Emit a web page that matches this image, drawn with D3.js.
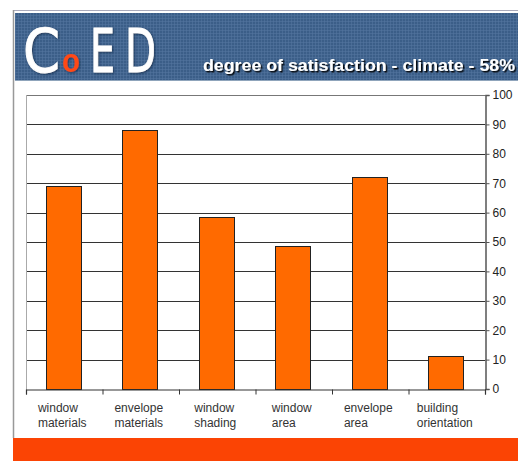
<!DOCTYPE html>
<html><head><meta charset="utf-8">
<script src="https://cdn.jsdelivr.net/npm/d3@7"></script>
<style>html,body{margin:0;padding:0;background:#fff;}svg{display:block;}</style>
</head><body>
<svg id="c" width="518" height="461"></svg>
<script>
const categories = [["window","materials"],["envelope","materials"],["window","shading"],["window","area"],["envelope","area"],["building","orientation"]];
const values = [69, 88, 58.5, 48.5, 72, 11.3];
const yTicks = [0,10,20,30,40,50,60,70,80,90,100];
const title = "degree of satisfaction - climate - 58%";

const svg = d3.select("#c");
const defs = svg.append("defs");
const pat = defs.append("pattern").attr("id","grid").attr("width",3).attr("height",3).attr("patternUnits","userSpaceOnUse");
pat.append("rect").attr("width",3).attr("height",3).attr("fill","#3b5e88");
pat.append("rect").attr("width",3).attr("height",1).attr("fill","#5476a0").attr("opacity",0.55);
pat.append("rect").attr("width",1).attr("height",3).attr("fill","#5476a0").attr("opacity",0.55);
const sh = defs.append("filter").attr("id","sh").attr("x","-5%").attr("y","-20%").attr("width","110%").attr("height","150%");
sh.append("feDropShadow").attr("dx",1.5).attr("dy",1.5).attr("stdDeviation",0.6).attr("flood-color","#000").attr("flood-opacity",0.9);
const sh2 = defs.append("filter").attr("id","sh2").attr("x","-20%").attr("y","-20%").attr("width","140%").attr("height","140%");
sh2.append("feDropShadow").attr("dx",1).attr("dy",1).attr("stdDeviation",1).attr("flood-color","#102040").attr("flood-opacity",0.7);

// frame
svg.append("line").attr("x1",13).attr("x2",518).attr("y1",10.5).attr("y2",10.5).attr("stroke","#aab").attr("stroke-width",1);
svg.append("line").attr("x1",13.5).attr("x2",13.5).attr("y1",10).attr("y2",438).attr("stroke","#999").attr("stroke-width",1.5);
// header
svg.append("rect").attr("x",15).attr("y",13).attr("width",503).attr("height",67).attr("fill","url(#grid)");
svg.append("line").attr("x1",15).attr("x2",518).attr("y1",80.5).attr("y2",80.5).attr("stroke","#8fa4bb");
// CoED logo
const logo = svg.append("g").attr("font-family","'Liberation Sans Narrow','DejaVu Sans Condensed',sans-serif").attr("fill","#fff").attr("stroke","#fff").attr("stroke-width",0.9).attr("filter","url(#sh2)");
logo.append("text").attr("x",23).attr("y",72).attr("font-size",61).attr("textLength",37).attr("lengthAdjust","spacingAndGlyphs").text("C");
logo.append("text").attr("x",62).attr("y",72).attr("font-size",33).attr("font-weight","bold").attr("fill","#ff4a14").attr("stroke","none").attr("font-family","Arial,'Liberation Sans',sans-serif").attr("textLength",18).attr("lengthAdjust","spacingAndGlyphs").text("o");
logo.append("text").attr("x",90).attr("y",72).attr("font-size",61).attr("textLength",25).attr("lengthAdjust","spacingAndGlyphs").text("E");
logo.append("text").attr("x",125).attr("y",72).attr("font-size",61).attr("textLength",31).attr("lengthAdjust","spacingAndGlyphs").text("D");
svg.append("text").attr("x",203).attr("y",71).attr("font-family","Arial,'Liberation Sans',sans-serif")
  .attr("font-weight","bold").attr("font-size",16).attr("fill","#fff").attr("filter","url(#sh)")
  .attr("textLength",312).attr("lengthAdjust","spacingAndGlyphs").text(title);

// bottom bar
svg.append("rect").attr("x",13).attr("y",438).attr("width",505).attr("height",23).attr("fill","#fb4404");

// chart
const L=26, R=485, T=95, B=389;
const x = d3.scaleBand().domain(d3.range(categories.length)).range([L,R]).padding(0);
const y = d3.scaleLinear().domain([0,100]).range([B,T]);
const g = svg.append("g");
// gridlines
g.selectAll("line.grid").data(yTicks.filter(t=>t>0 && t<100)).join("line")
  .attr("x1",L).attr("x2",R).attr("y1",d=>Math.round(y(d))+0.5).attr("y2",d=>Math.round(y(d))+0.5)
  .attr("stroke","#333").attr("stroke-width",1);
g.append("line").attr("x1",L).attr("x2",R).attr("y1",T+0.5).attr("y2",T+0.5).attr("stroke","#777");
g.append("line").attr("x1",L+0.5).attr("x2",L+0.5).attr("y1",T).attr("y2",B).attr("stroke","#aaa");

// bars
const frac = 0.457;
g.selectAll("rect.bar").data(values).join("rect")
  .attr("x",(d,i)=>Math.round(x(i)+x.bandwidth()*(1-frac)/2 - 1)+0.5)
  .attr("width",Math.round(x.bandwidth()*frac))
  .attr("y",d=>Math.round(y(d))+0.5)
  .attr("height",d=>B-Math.round(y(d)))
  .attr("fill","#ff6a00").attr("stroke","#222").attr("stroke-width",1);

// right axis
const ya = d3.axisRight(y).tickValues(yTicks).tickSize(4).tickPadding(3);
const yg = svg.append("g").attr("transform",`translate(${R+0.5},0)`).call(ya);
yg.select(".domain").attr("stroke","#555").attr("stroke-width",1.5);
yg.selectAll(".tick line").attr("stroke","#555");
yg.selectAll(".tick text").attr("font-family","Arial,'Liberation Sans',sans-serif").attr("font-size",12).attr("fill","#222");

// bottom axis
const xb = d3.scaleLinear().domain([0,categories.length]).range([L,R]);
const xa = d3.axisBottom(xb).tickValues(d3.range(categories.length+1)).tickSize(5).tickFormat("");
const xg = svg.append("g").attr("transform",`translate(0,${B+0.5})`).call(xa);
xg.select(".domain").attr("stroke","#333").attr("stroke-width",1.2);
xg.selectAll(".tick line").attr("stroke","#333");

// category labels
const lab = svg.append("g").attr("font-family","Arial,'Liberation Sans',sans-serif").attr("font-size",12).attr("fill","#333");
categories.forEach((c,i)=>{
  const t = lab.append("text").attr("y",412);
  const sp = c.map((s,k)=>t.append("tspan").attr("dy",k?15:0).text(s));
  const w = Math.max(...sp.map(s=>s.node().getComputedTextLength()));
  const x0 = x(i)+x.bandwidth()/2 - w/2 - 2;
  sp.forEach(s=>s.attr("x",x0));
});
</script>
</body></html>
